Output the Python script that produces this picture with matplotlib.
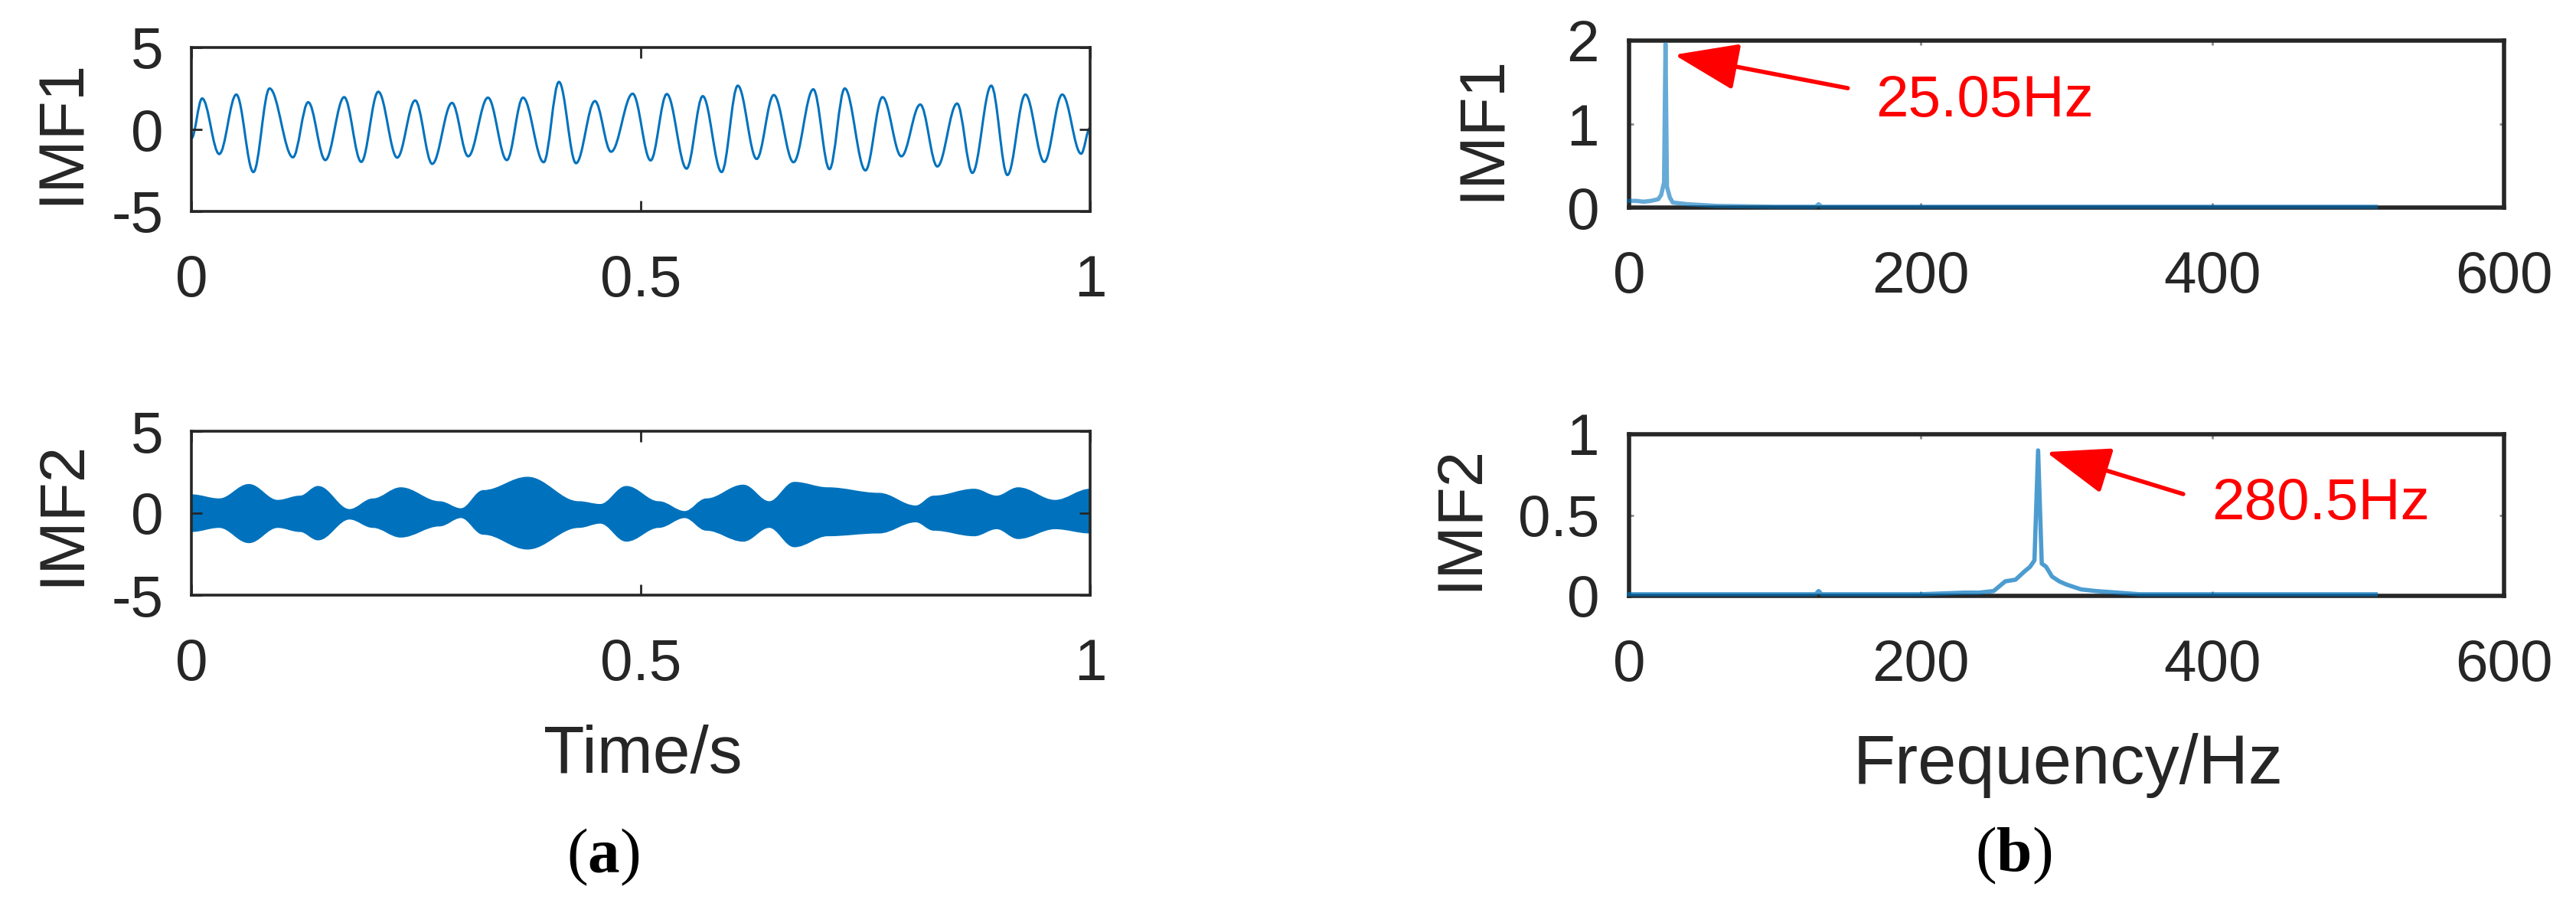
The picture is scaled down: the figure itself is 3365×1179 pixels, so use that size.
import matplotlib
matplotlib.use('Agg')
import matplotlib.pyplot as plt
from matplotlib.path import Path
from matplotlib.patches import PathPatch

plt.rcParams['font.family'] = ['Liberation Sans', 'DejaVu Sans']
plt.rcParams['axes.unicode_minus'] = False
plt.rcParams['mathtext.fontset'] = 'custom'
plt.rcParams['mathtext.rm'] = 'Liberation Serif'
plt.rcParams['mathtext.bf'] = 'Liberation Serif:bold'

# IMF1 time signal: peaks and troughs
imf1_t = [0.000, 0.012, 0.031, 0.050, 0.069, 0.087, 0.113, 0.130, 0.149, 0.170,
          0.189, 0.208, 0.229, 0.249, 0.268, 0.290, 0.308, 0.330, 0.351, 0.369,
          0.392, 0.409, 0.428, 0.449, 0.467, 0.491, 0.511, 0.529, 0.551, 0.569,
          0.590, 0.608, 0.629, 0.648, 0.670, 0.692, 0.710, 0.727, 0.750, 0.769,
          0.790, 0.811, 0.830, 0.852, 0.869, 0.890, 0.908, 0.928, 0.949, 0.969,
          0.990, 1.000]
imf1_v = [-0.55, 1.89, -1.50, 2.13, -2.60, 2.50, -1.70, 1.66, -1.87, 1.97,
          -1.98, 2.30, -1.72, 1.77, -2.10, 1.62, -1.64, 1.94, -1.87, 1.94,
          -2.00, 2.90, -2.06, 1.73, -1.36, 2.18, -1.89, 2.16, -2.39, 2.03,
          -2.60, 2.67, -1.80, 2.10, -2.00, 2.45, -2.42, 2.50, -2.50, 1.97,
          -1.64, 1.52, -2.26, 1.58, -2.65, 2.67, -2.78, 2.13, -1.98, 2.13,
          -1.48, 0.10]

# IMF2 time signal: upper / lower envelope of the dense band
imf2_t = [0.000, 0.031, 0.064, 0.096, 0.121, 0.141, 0.176, 0.202, 0.233, 0.276,
          0.300, 0.325, 0.374, 0.431, 0.455, 0.484, 0.520, 0.549, 0.573, 0.614,
          0.643, 0.671, 0.708, 0.765, 0.806, 0.826, 0.871, 0.896, 0.920, 0.961,
          1.000]
imf2_up = [1.10, 0.85, 1.73, 0.76, 1.02, 1.61, 0.20, 0.85, 1.53, 0.68,
           0.25, 1.36, 2.17, 0.68, 0.51, 1.61, 0.68, 0.08, 0.85, 1.69,
           0.68, 1.86, 1.53, 1.19, 0.42, 1.02, 1.44, 1.02, 1.53, 0.76,
           1.44]
imf2_lo = [-1.10, -0.85, -1.78, -0.85, -1.10, -1.61, -0.34, -0.85, -1.44, -0.76,
           -0.25, -1.27, -2.17, -0.85, -0.59, -1.69, -0.85, -0.25, -1.02, -1.69,
           -0.85, -2.03, -1.36, -1.19, -0.51, -1.02, -1.36, -0.93, -1.53, -0.93,
           -1.19]

# spectra
imf1_f = [0, 5, 10, 15, 20, 22, 24, 25, 26, 28, 30, 35, 40, 50, 60, 80, 100,
          128, 130, 132, 150, 200, 300, 400, 512]
imf1_a = [0.08, 0.08, 0.07, 0.08, 0.10, 0.15, 0.30, 1.96, 0.25, 0.12, 0.06, 0.05,
          0.04, 0.03, 0.02, 0.015, 0.01, 0.01, 0.04, 0.01, 0.01, 0.01, 0.01, 0.01, 0.01]
imf2_f = [0, 50, 100, 128, 130, 132, 200, 230, 240, 250, 258, 265, 271, 275, 278,
          280.5, 283, 286, 290, 295, 300, 310, 320, 350, 400, 512]
imf2_a = [0.01, 0.01, 0.01, 0.01, 0.03, 0.01, 0.01, 0.02, 0.02, 0.03, 0.09, 0.10,
          0.15, 0.18, 0.22, 0.90, 0.20, 0.18, 0.12, 0.09, 0.07, 0.04, 0.03, 0.01,
          0.01, 0.01]

BLUE = '#0072BD'
DARK = '#262626'
W, H = 3366, 1179


def box(x0, y0, x1, y1):
    return [x0 / W, 1 - y1 / H, (x1 - x0) / W, (y1 - y0) / H]


def style(ax, spine_lw, tick_len, tick_col, xpad, ypad):
    for s in ax.spines.values():
        s.set_linewidth(spine_lw)
        s.set_color(DARK)
    ax.tick_params(direction='in', top=True, right=True, length=tick_len,
                   width=2, color=tick_col, labelsize=55, labelcolor=DARK)
    ax.tick_params(axis='x', pad=xpad)
    ax.tick_params(axis='y', pad=ypad)


def curve_segments(xs, ys):
    # cubic segments with flat tangents at each listed point
    verts, codes = [], []
    for i in range(len(xs) - 1):
        dx = xs[i + 1] - xs[i]
        verts += [(xs[i] + 0.36 * dx, ys[i]), (xs[i + 1] - 0.36 * dx, ys[i + 1]),
                  (xs[i + 1], ys[i + 1])]
        codes += [Path.CURVE4] * 3
    return verts, codes


def smooth_path(xs, ys):
    v, c = curve_segments(xs, ys)
    return Path([(xs[0], ys[0])] + v, [Path.MOVETO] + c)


def band_path(xs, lo, hi):
    v1, c1 = curve_segments(xs, hi)
    v2, c2 = curve_segments(xs[::-1], lo[::-1])
    verts = [(xs[0], hi[0])] + v1 + [(xs[-1], lo[-1])] + v2 + [(xs[0], hi[0])]
    codes = [Path.MOVETO] + c1 + [Path.LINETO] + c2 + [Path.CLOSEPOLY]
    return Path(verts, codes)


fig = plt.figure(figsize=(W / 100, H / 100), dpi=100)

ax1 = fig.add_axes(box(250, 62, 1424, 276))
ax2 = fig.add_axes(box(250, 563, 1424, 777))
ax3 = fig.add_axes(box(2128, 53, 3271, 271))
ax4 = fig.add_axes(box(2128, 567, 3271, 778))

# (a) time domain
ax1.add_patch(PathPatch(smooth_path(imf1_t, imf1_v), fill=False,
                        edgecolor=BLUE, lw=2.2))
ax2.add_patch(PathPatch(band_path(imf2_t, imf2_lo, imf2_up), facecolor=BLUE,
                        edgecolor=BLUE, lw=1.5))
for ax in (ax1, ax2):
    ax.set_xlim(0, 1)
    ax.set_ylim(-5, 5)
    ax.set_xticks([0, 0.5, 1])
    ax.set_xticklabels(['0', '0.5', '1'])
    ax.set_yticks([-5, 0, 5])
    ax.set_yticklabels(['-5', '0', '5'])
    style(ax, 2.6, 10, DARK, 40, 26)

# (b) spectra
ax3.plot(imf1_f, imf1_a, color=BLUE, lw=4, alpha=0.6, clip_on=False, zorder=3)
ax4.plot(imf2_f, imf2_a, color=BLUE, lw=4, alpha=0.7, clip_on=False, zorder=3)
ax3.set_ylim(0, 2)
ax3.set_yticks([0, 1, 2])
ax3.set_yticklabels(['0', '1', '2'])
ax4.set_ylim(0, 1)
ax4.set_yticks([0, 0.5, 1])
ax4.set_yticklabels(['0', '0.5', '1'])
for ax in (ax3, ax4):
    ax.set_xlim(0, 600)
    ax.set_xticks([0, 200, 400, 600])
    ax.set_xticklabels(['0', '200', '400', '600'])
    style(ax, 4, 4.5, '#8c8c8c', 40, 28)

arrow = dict(arrowstyle='-|>,head_length=5.2,head_width=1.9', mutation_scale=10,
             color='red', lw=4, shrinkA=0, shrinkB=0)
ax3.annotate('', xy=(31, 1.83), xytext=(150, 1.43), arrowprops=arrow)
ax3.text(169, 1.09, '25.05Hz', color='red', fontsize=55, ha='left', va='baseline')
ax4.annotate('', xy=(286, 0.89), xytext=(380, 0.63), arrowprops=arrow)
ax4.text(399.5, 0.474, '280.5Hz', color='red', fontsize=55, ha='left', va='baseline')

# axis labels
lab = dict(rotation=90, ha='center', va='center', fontsize=60, color=DARK)
fig.text(81 / W, 1 - 172 / H, 'IMF1', **lab)
fig.text(81 / W, 1 - 670 / H, 'IMF2', **lab)
fig.text(1937 / W, 1 - 167 / H, 'IMF1', **lab)
fig.text(1907 / W, 1 - 676 / H, 'IMF2', **lab)

fig.text(840 / W, 1 - 1009 / H, 'Time/s', ha='center', va='baseline',
         fontsize=63, color=DARK)
fig.text(2702 / W, 1 - 1023 / H, 'Frequency/Hz', ha='center', va='baseline',
         fontsize=65, color=DARK)

fig.text(788 / W, 1 - 1139 / H, r'$\mathrm{(}\mathbf{a}\mathrm{)}$',
         ha='center', va='baseline', fontsize=60)
fig.text(2630 / W, 1 - 1137 / H, r'$\mathrm{(}\mathbf{b}\mathrm{)}$',
         ha='center', va='baseline', fontsize=60)

fig.savefig('out.png', dpi=100)
